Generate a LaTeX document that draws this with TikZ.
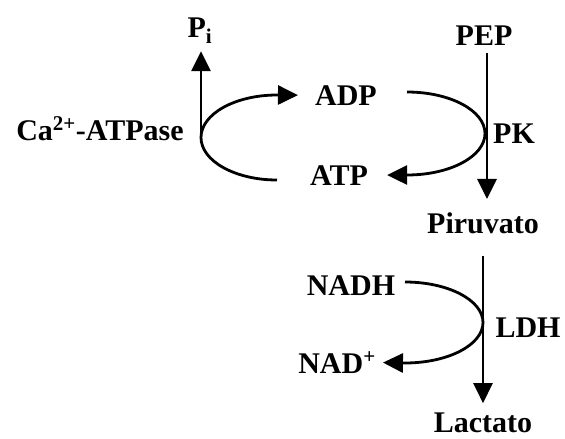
\documentclass[tikz,border=0pt]{standalone}
\usepackage{fontspec}
\setmainfont{Liberation Serif}
\usetikzlibrary{arrows.meta}
\begin{document}
\begin{tikzpicture}[x=1pt,y=-1pt,
  lbl/.style={font=\fontsize{30}{31}\selectfont\bfseries, inner sep=0pt, anchor=base},
  conn/.style={line width=2.8pt},
  arr/.style={conn, -{Triangle[length=20pt,width=19pt]}}]
\useasboundingbox (0,0) rectangle (565,439);
% labels
\node[lbl] (pi) at (200,37) {P\textsubscript{i}};
\node[lbl] (ca) at (100,140) {Ca\textsuperscript{2+}-ATPase};
\node[lbl] (adp) at (346,105) {ADP};
\node[lbl] (atp) at (339,185) {ATP};
\node[lbl] (pep) at (484,45) {PEP};
\node[lbl] (pk) at (514,143) {PK};
\node[lbl] (pir) at (483,233) {Piruvato};
\node[lbl] (nadh) at (351,295) {NADH};
\node[lbl] (ldh) at (528,337) {LDH};
\node[lbl] (nad) at (337,373) {NAD\textsuperscript{+}};
\node[lbl] (lac) at (483,432) {Lactato};
% named points of the curves
\coordinate (cycB) at (277,180);
\coordinate (pkT) at (407,92);
\coordinate (ldhT) at (405,282);
\coordinate (piFoot) at (201,142);
\coordinate (pkLine) at (487,0);
\coordinate (ldhLine) at (483,0);
% Ca-ATPase cycle
\draw[arr] (cycB) arc[start angle=90, end angle=270, x radius=76, y radius=42.5]
  -- ([xshift=-17pt]adp.west);
\draw[arr] (piFoot) -- ([yshift=-8pt]pi.south -| piFoot);
% PK
\draw[arr] ([yshift=-8pt]pep.south -| pkLine) -- ([yshift=13pt]pir.north -| pkLine);
\draw[arr] (pkT) arc[start angle=-90, end angle=90, x radius=78, y radius=41.5]
  -- ([xshift=19pt]atp.east);
% LDH
\draw[arr] ([yshift=-22pt]pir.south -| ldhLine) -- ([yshift=9pt]lac.north -| ldhLine);
\draw[arr] (ldhT) arc[start angle=-90, end angle=90, x radius=78, y radius=40.5]
  -- ([xshift=7pt]nad.east);
\end{tikzpicture}
\end{document}
